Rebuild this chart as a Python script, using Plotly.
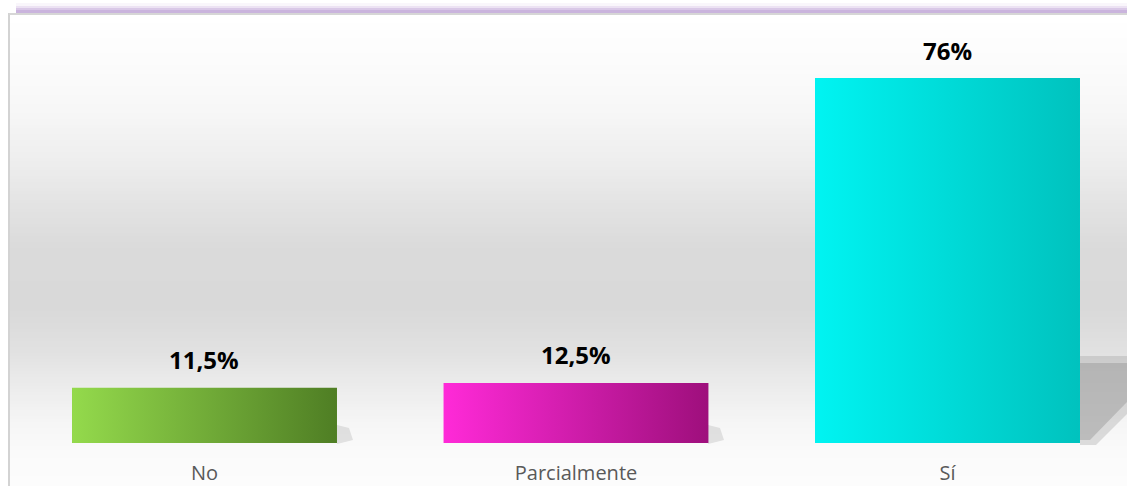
import plotly.graph_objects as go

categories = ["No", "Parcialmente", "Sí"]
values = [11.5, 12.5, 76]
labels = ["11,5%", "12,5%", "76%"]
left_colors = ["#94DA4C", "#FF2AD8", "#00F4F2"]
right_colors = ["#4F7E24", "#9E0F7C", "#00C2BE"]
mid_colors = ["#72AC38", "#D01AAA", "#00DEDB"]

W, H = 1127, 486
ML, MR, MT, MB = 19, 0, 14, 43
PW, PH = W - ML - MR, H - MT - MB
BAR_W = 0.713
XR = [-0.4993, 2.4832]
YR = [0, 89.33]


def pxx(p):
    return (p - ML) / PW


def pxy(p):
    return (H - MB - p) / PH


fig = go.Figure()

xs = list(range(len(categories)))
fig.add_trace(go.Bar(x=xs, y=values, width=BAR_W, marker=dict(color=mid_colors, line=dict(width=0)),
                     hoverinfo="skip", showlegend=False))

# gradient overlay on each bar, same geometry as the bar
for i, v in enumerate(values):
    x0, x1 = i - BAR_W / 2, i + BAR_W / 2
    fig.add_trace(go.Scatter(
        x=[x0, x1, x1, x0, x0], y=[0, 0, v, v, 0], mode="lines", fill="toself",
        line=dict(width=0, color="rgba(0,0,0,0)"),
        fillgradient=dict(type="horizontal",
                          colorscale=[[0, left_colors[i]], [1, right_colors[i]]]),
        hoverinfo="skip", showlegend=False))

shapes = []
# background vertical gradient
stops = [(14, 255), (60, 252), (110, 247), (160, 238), (210, 226), (250, 218), (310, 217),
         (350, 225), (390, 237), (425, 246), (450, 250), (486, 252)]


def grey(p):
    for (a, ca), (b, cb) in zip(stops[:-1], stops[1:]):
        if a <= p <= b:
            return round(ca + (cb - ca) * (p - a) / (b - a))
    return 252


step = 3
y = 14
while y < H:
    g = grey(y + step / 2)
    shapes.append(dict(type="rect", xref="paper", yref="paper", layer="below",
                       x0=pxx(9), x1=pxx(W), y0=pxy(y + step), y1=pxy(y),
                       fillcolor=f"rgb({g},{g},{g})", line=dict(width=0)))
    y += step

# shadows
shapes.append(dict(type="path", xref="paper", yref="paper", layer="below",
                   path=f"M {pxx(1080)},{pxy(356)} L {pxx(1127)},{pxy(356)} L {pxx(1127)},{pxy(414)} "
                        f"L {pxx(1096)},{pxy(445)} L {pxx(1080)},{pxy(445)} Z",
                   fillcolor="rgba(150,150,150,0.3)", line=dict(width=0)))
shapes.append(dict(type="path", xref="paper", yref="paper", layer="below",
                   path=f"M {pxx(1080)},{pxy(363)} L {pxx(1127)},{pxy(363)} L {pxx(1127)},{pxy(402)} "
                        f"L {pxx(1090)},{pxy(440)} L {pxx(1080)},{pxy(440)} Z",
                   fillcolor="rgba(150,150,150,0.45)", line=dict(width=0)))
for xl in (337, 708):
    shapes.append(dict(type="path", xref="paper", yref="paper", layer="below",
                       path=f"M {pxx(xl)},{pxy(425)} L {pxx(xl + 12)},{pxy(428)} L {pxx(xl + 16)},{pxy(440)} "
                            f"L {pxx(xl)},{pxy(444)} Z",
                       fillcolor="rgba(170,170,170,0.3)", line=dict(width=0)))

# frame lines
shapes.append(dict(type="line", xref="paper", yref="paper", x0=pxx(9), x1=pxx(9), y0=pxy(H), y1=pxy(13),
                   line=dict(color="#d3d3d3", width=2)))
shapes.append(dict(type="line", xref="paper", yref="paper", x0=pxx(9), x1=pxx(W), y0=pxy(14), y1=pxy(14),
                   line=dict(color="#d6d6d6", width=2)))
# purple glow
glow = [(3, 6, "#f9f6fb"), (6, 8, "#ece2f3"), (8, 10, "#d9c8e7"), (10, 13, "#cab4dd")]
for a, b, c in glow:
    shapes.append(dict(type="rect", xref="paper", yref="paper", x0=pxx(16), x1=pxx(W),
                       y0=pxy(b), y1=pxy(a), fillcolor=c, line=dict(width=0)))

annotations = []
for i, (v, t) in enumerate(zip(values, labels)):
    annotations.append(dict(x=i, y=v, xref="x", yref="y", text=f"<b>{t}</b>", showarrow=False,
                            yanchor="middle", yshift=28,
                            font=dict(family="Open Sans", size=24, color="#000000")))

fig.update_layout(
    width=W, height=H,
    margin=dict(l=ML, r=MR, t=MT, b=MB, pad=0),
    paper_bgcolor="#ffffff", plot_bgcolor="rgba(0,0,0,0)",
    bargap=0, showlegend=False,
    shapes=shapes, annotations=annotations,
    xaxis=dict(range=XR, tickvals=xs, ticktext=categories, showgrid=False, zeroline=False,
               showline=False, ticks="", ticklabelstandoff=16,
               tickfont=dict(family="Open Sans", size=20, color="#595959"), fixedrange=True),
    yaxis=dict(range=YR, visible=False, showgrid=False, zeroline=False, fixedrange=True),
)

fig.write_html("out.html", config={"displayModeBar": False},
               post_script="document.body.style.margin='0';document.body.style.overflow='hidden';")
